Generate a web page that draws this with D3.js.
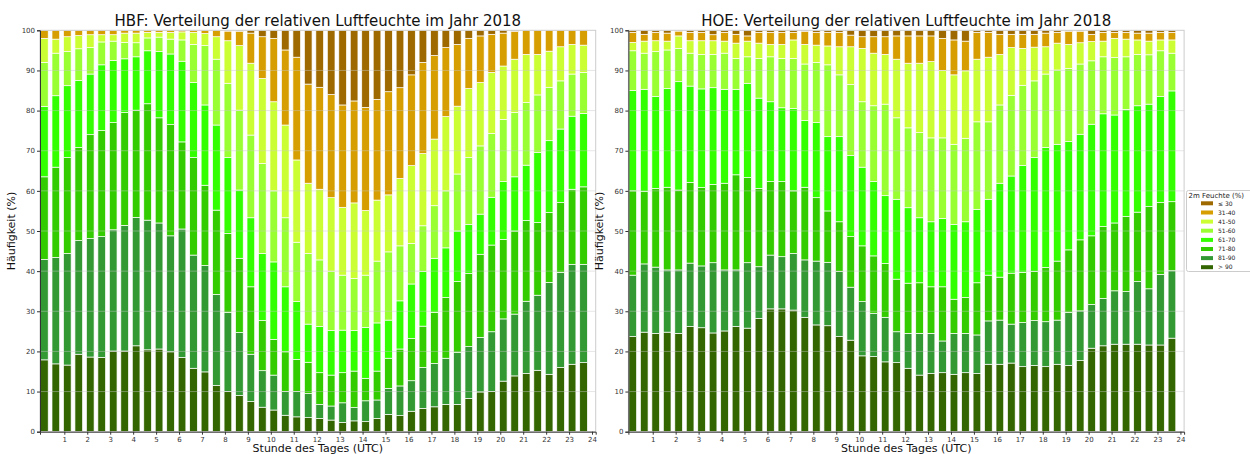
<!DOCTYPE html>
<html><head><meta charset="utf-8">
<script src="https://cdn.jsdelivr.net/npm/d3@7"></script>
<style>body{margin:0;background:#fff;} svg{font-family:"DejaVu Sans",sans-serif;display:block;}</style>
</head><body><svg id="c" width="1250" height="454"></svg>
<script>
// half-hour slots (start hour of each bar)
const slots = [0,0.5,1,1.5,2,2.5,3,3.5,4,4.5,5,5.5,6,6.5,7,7.5,8,8.5,9,9.5,10,10.5,11,11.5,12,12.5,13,13.5,14,14.5,15,15.5,16,16.5,17,17.5,18,18.5,19,19.5,20,20.5,21,21.5,22,22.5,23,23.5];
const xTicks = [1,2,3,4,5,6,7,8,9,10,11,12,13,14,15,16,17,18,19,20,21,22,23,24];
const yTicks = [0,10,20,30,40,50,60,70,80,90,100];
const categories = ["\u2264 30","31-40","41-50","51-60","61-70","71-80","81-90","> 90"];
const catColors = ["#9e6a00","#d69e00","#ccff33","#99ff33","#33ff00","#33cc00","#339933","#336600"];

// HBF
const hbf_le30 = [0,0,0,0,0,0,0,0,0,0,0,0,0,0,0,0,0.2,0.3,0.7,1.6,2.0,4.9,6.7,13.4,14.2,16.0,18.6,17.6,19.2,17.2,15.3,14.3,11.1,8.0,6.3,4.3,3.5,2.0,1.4,1.0,0.7,0.3,0,0,0,0,0,0];
const hbf_31_40 = [2.0,2.2,1.6,1.3,1.1,1.1,1.1,0.7,0.7,0.5,0.5,0.5,0.4,0.5,0.8,1.6,2.4,3.5,7.5,10.4,15.8,18.7,25.6,24.7,25.4,25.7,25.5,25.4,25.7,25.1,25.7,22.6,22.6,22.7,20.8,17.2,15.4,12.5,11.6,9.5,8.2,6.9,6.0,6.0,5.2,4.1,3.5,3.7];
const hbf_41_50 = [6.0,3.5,3.7,3.3,3.2,1.8,1.6,2.3,2.4,1.4,1.2,1.7,2.0,3.0,3.0,5.6,10.6,16.1,17.9,21.2,22.2,23.1,20.5,17.5,17.6,18.3,16.9,18.8,16.1,15.2,14.2,16.8,19.4,18.0,16.6,18.5,16.9,17.2,15.8,15.2,13.3,13.3,12.0,10.1,9.0,8.5,7.4,6.8];
const hbf_51_60 = [11.0,10.6,8.5,7.9,6.6,5.7,4.8,4.1,3.5,3.2,3.6,3.7,5.3,9.5,14.8,16.4,18.5,19.9,20.6,22.4,17.7,17.2,14.8,17.6,16.6,14.8,13.7,13.0,13.0,15.4,17.0,13.7,10.1,11.4,13.1,14.2,14.2,16.7,17.0,15.9,15.5,16.0,15.6,14.3,13.3,12.0,10.5,10.2];
const hbf_61_70 = [17.5,17.8,17.9,16.7,15.1,16.4,15.5,13.4,13.3,13.2,16.5,17.6,20.1,18.7,20.0,21.2,18.9,17.0,17.2,16.7,19.3,16.2,14.4,9.5,11.5,11.1,10.6,10.1,12.7,12.0,9.5,12.0,13.6,13.6,13.5,12.4,12.6,12.2,10.0,11.9,14.4,13.5,13.8,17.5,17.9,18.3,18.2,18.3];
const hbf_71_80 = [20.6,22.5,23.9,23.2,25.9,26.4,26.7,28.1,26.7,29.0,26.2,27.7,21.7,24.3,20.0,21.0,19.7,18.5,16.8,12.5,8.9,9.9,8.0,7.8,7.9,7.7,7.5,9.1,5.6,7.2,7.5,9.2,10.5,10.3,12.7,15.1,17.7,18.2,20.7,21.6,19.8,20.7,20.1,18.1,17.4,17.4,18.7,19.3];
const hbf_81_90 = [25.0,26.5,27.8,28.3,29.5,30.1,30.2,31.3,32.0,32.3,31.4,28.9,32.0,28.2,26.5,22.7,19.7,15.7,11.8,9.1,8.7,5.9,6.3,6.0,3.5,3.5,4.9,3.3,5.2,4.6,6.5,7.4,7.6,10.2,10.8,11.5,12.9,12.9,13.6,14.9,15.5,15.4,18.0,18.7,22.9,23.7,24.9,24.5];
const hbf_gt90 = [17.9,16.9,16.6,19.3,18.6,18.5,20.1,20.1,21.4,20.4,20.6,19.9,18.5,15.8,14.9,11.5,10.0,9.0,7.5,6.1,5.4,4.1,3.7,3.5,3.3,2.9,2.3,2.7,2.5,3.3,4.3,4.0,5.1,5.8,6.2,6.8,6.8,8.3,9.9,10.0,12.6,13.9,14.5,15.3,14.3,16.0,16.8,17.2];

// HOE
const hoe_le30 = [0.5,1.0,0.5,0.7,0.2,0.5,0.5,1.1,0.5,1.0,1.4,0.5,0.5,0.5,0.5,0.3,0.5,0.5,0.5,1.2,1.6,1.6,1.6,1.4,1.4,1.4,1.4,2.0,2.4,2.7,0.5,0.5,1.0,1.0,1.0,1.0,0.7,0.5,0.3,0.3,1.0,0.5,0.5,0.5,0.7,0.7,0.5,0.5];
const hoe_31_40 = [2.5,1.7,2.1,2.0,1.2,2.1,2.1,1.5,2.2,2.2,1.3,2.7,3.0,3.0,1.9,3.2,3.2,3.4,3.6,2.9,2.9,4.1,4.4,5.8,6.8,6.8,6.4,8.0,8.7,7.4,6.7,6.2,5.0,3.3,3.5,3.2,3.4,2.7,3.2,2.8,1.8,2.2,1.5,1.7,1.7,2.0,1.9,1.9];
const hoe_41_50 = [2.1,3.0,2.7,2.2,3.1,3.1,3.4,3.4,3.0,3.8,3.9,3.8,3.1,3.5,4.6,4.9,4.3,4.7,7.0,9.4,13.3,13.1,12.4,14.6,16.1,17.3,19.0,16.8,17.3,16.8,15.6,16.1,12.6,11.9,9.2,8.4,6.8,6.7,6.0,5.3,4.8,3.9,4.8,4.4,3.6,3.4,2.7,3.3];
const hoe_51_60 = [9.9,9.0,11.2,9.6,8.3,8.2,8.6,8.3,9.0,7.7,6.6,9.9,11.2,12.3,12.5,14.1,15.0,17.9,15.4,17.7,16.3,18.9,22.8,20.3,19.9,21.2,20.9,20.1,20.0,20.8,21.8,19.3,19.5,20.1,20.0,19.1,18.3,18.5,18.2,17.5,15.8,14.2,14.3,13.1,12.8,12.3,11.4,9.4];
const hoe_61_70 = [25.0,25.5,22.9,24.6,27.0,24.0,24.6,24.1,23.4,21.3,23.5,22.5,19.9,18.4,20.5,16.6,18.7,18.5,21.2,20.2,19.6,18.5,16.9,19.9,18.8,16.2,16.2,17.0,18.6,18.9,18.3,18.9,23.4,24.2,26.6,28.4,29.9,29.1,27.0,26.3,27.8,28.1,26.9,26.7,26.5,25.5,26.4,27.6];
const hoe_71_80 = [21.0,18.0,19.6,20.6,19.9,20.1,19.5,19.5,21.6,23.7,21.2,19.5,18.3,18.7,15.6,18.1,15.8,12.8,12.4,12.6,13.9,14.3,13.4,13.1,12.5,12.6,11.6,13.5,8.5,8.9,13.0,11.4,10.7,12.7,12.5,12.2,13.5,14.7,15.6,17.7,17.1,17.9,16.9,18.7,17.3,20.5,17.9,17.2];
const hoe_81_90 = [15.3,17.0,16.5,15.5,15.8,15.8,15.4,17.5,15.2,14.1,16.3,12.9,13.4,13.0,14.1,14.3,15.9,15.8,16.2,13.2,13.5,10.8,11.1,7.7,8.7,10.4,10.0,7.9,10.2,9.8,9.6,10.8,11.0,9.7,11.0,11.2,11.2,11.0,13.2,12.4,10.9,11.8,13.3,13.1,15.6,14.0,17.6,16.8];
const hoe_gt90 = [23.7,24.8,24.5,24.8,24.5,26.2,25.9,24.6,25.1,26.2,25.8,28.2,30.6,30.6,30.3,28.5,26.6,26.4,23.7,22.8,18.9,18.7,17.4,17.2,15.8,14.1,14.5,14.7,14.3,14.7,14.5,16.8,16.8,17.1,16.2,16.5,16.2,16.8,16.5,17.7,20.8,21.4,21.8,21.8,21.8,21.6,21.6,23.3];

const svg = d3.select("#c");
const keys = ["gt90","c81","c71","c61","c51","c41","c31","le30"];
const keyColor = {le30:catColors[0],c31:catColors[1],c41:catColors[2],c51:catColors[3],c61:catColors[4],c71:catColors[5],c81:catColors[6],gt90:catColors[7]};

function panel(left, title, s) {
  const W = 555.7, top = 30.3, bottom = 431.7;
  const x = d3.scaleLinear().domain([-0.06, 24.16]).range([left, left + W]);
  const y = d3.scaleLinear().domain([0, 100]).range([bottom, top]);
  const rows = slots.map((h, i) => ({h, le30:s[0][i], c31:s[1][i], c41:s[2][i], c51:s[3][i], c61:s[4][i], c71:s[5][i], c81:s[6][i], gt90:s[7][i]}));
  const stack = d3.stack().keys(keys)(rows);
  const bw = x(0.335) - x(0);
  const g = svg.append("g");
  stack.forEach(ser => {
    g.selectAll(null).data(ser).join("rect")
      .attr("x", d => x(d.data.h + 0.13) - bw / 2)
      .attr("width", bw)
      .attr("y", d => y(Math.min(100, d[1])))
      .attr("height", d => Math.max(0, y(d[0]) - y(Math.min(100, d[1]))))
      .attr("fill", keyColor[ser.key])
      .attr("stroke", "#ffffff").attr("stroke-width", 0.7);
  });
  // grid over bars
  svg.append("g").selectAll("line").data(yTicks.filter(v => v > 0 && v < 100)).join("line")
    .attr("x1", left).attr("x2", left + W)
    .attr("y1", d => y(d)).attr("y2", d => y(d))
    .attr("stroke", "#c8c8c8").attr("stroke-opacity", 0.45).attr("stroke-width", 1);
  // frame
  svg.append("rect").attr("x", left).attr("y", top).attr("width", W).attr("height", bottom - top)
    .attr("fill", "none").attr("stroke", "#cccccc").attr("stroke-width", 1);
  const ax = svg.append("g").attr("transform", `translate(0,${bottom})`)
    .call(d3.axisBottom(x).tickValues(xTicks).tickSize(3).tickPadding(2).tickFormat(d3.format("d")));
  const ay = svg.append("g").attr("transform", `translate(${left},0)`)
    .call(d3.axisLeft(y).tickValues(yTicks).tickSize(3).tickPadding(2).tickFormat(d3.format("d")));
  [ax, ay].forEach(a => {
    a.select(".domain").attr("stroke", "#333");
    a.selectAll(".tick line").attr("stroke", "#333");
    a.selectAll("text").attr("fill", "#333").style("font-size", "7px").style("font-family", "DejaVu Sans");
  });
  svg.append("text").attr("x", left + W / 2).attr("y", 26).attr("text-anchor", "middle")
    .style("font-size", "15px").attr("fill", "#111").text(title);
  svg.append("text").attr("x", left + W / 2).attr("y", 452).attr("text-anchor", "middle")
    .style("font-size", "11px").attr("fill", "#111").text("Stunde des Tages (UTC)");
  svg.append("text").attr("transform", `translate(${left - 25},231) rotate(-90)`).attr("text-anchor", "middle")
    .style("font-size", "11px").attr("fill", "#111").text("Häufigkeit (%)");
}

panel(40, "HBF: Verteilung der relativen Luftfeuchte im Jahr 2018",
  [hbf_le30, hbf_31_40, hbf_41_50, hbf_51_60, hbf_61_70, hbf_71_80, hbf_81_90, hbf_gt90]);
panel(628.4, "HOE: Verteilung der relativen Luftfeuchte im Jahr 2018",
  [hoe_le30, hoe_31_40, hoe_41_50, hoe_51_60, hoe_61_70, hoe_71_80, hoe_81_90, hoe_gt90]);

// legend
const lg = svg.append("g");
lg.append("rect").attr("x", 1186.5).attr("y", 190.5).attr("width", 70).attr("height", 81)
  .attr("fill", "#fff").attr("stroke", "#cccccc").attr("rx", 2);
lg.append("text").attr("x", 1188.5).attr("y", 197.5).style("font-size", "7px").attr("fill", "#222").text("2m Feuchte (%)");
const rowsY = [203.3, 212.5, 221.6, 230.7, 239.9, 249, 258.1, 267.2];
categories.forEach((c, i) => {
  lg.append("rect").attr("x", 1201).attr("y", rowsY[i] - 2).attr("width", 12).attr("height", 4).attr("fill", catColors[i]);
  lg.append("text").attr("x", 1218).attr("y", rowsY[i] + 2.2).style("font-size", "6px").attr("fill", "#222").text(c);
});
</script></body></html>
